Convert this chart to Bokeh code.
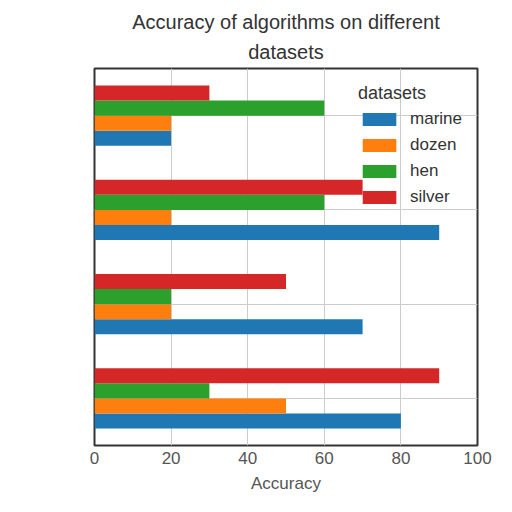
from bokeh.plotting import figure
from bokeh.models import ColumnDataSource, FactorRange, Range1d, Legend, LegendItem, FixedTicker, Title
from bokeh.transform import dodge
from bokeh.embed import file_html
from bokeh.resources import INLINE

# categories bottom -> top
algorithms = ["algorithm A", "algorithm B", "algorithm C", "algorithm D"]
datasets = ["marine", "dozen", "hen", "silver"]
marine = [80, 70, 90, 20]
dozen = [50, 20, 20, 20]
hen = [30, 20, 60, 60]
silver = [90, 50, 70, 30]
colors = ["#1f77b4", "#ff7f0e", "#2ca02c", "#d62728"]
x_ticks = [0, 20, 40, 60, 80, 100]
title_lines = ["Accuracy of algorithms on different", "datasets"]

src = ColumnDataSource(dict(alg=algorithms, marine=marine, dozen=dozen, hen=hen, silver=silver))

FONT = "Liberation Sans"

p = figure(width=504, height=500, y_range=FactorRange(*algorithms, range_padding=0),
           x_range=Range1d(0, 100), output_backend="svg", toolbar_location=None,
           min_border_left=94, min_border_right=27, min_border_top=68, min_border_bottom=55)

offsets = [-0.24, -0.08, 0.08, 0.24]
items = []
for ds, off, c in zip(datasets, offsets, colors):
    r = p.hbar(y=dodge("alg", off, range=p.y_range), right=ds, left=0, height=0.16,
               source=src, fill_color=c, line_color=None)
    items.append(LegendItem(label=ds, renderers=[r]))

legend = Legend(items=items, title="datasets", location="top_right")
legend.background_fill_alpha = 0
legend.border_line_color = None
legend.label_text_font = FONT
legend.label_text_font_size = "17px"
legend.label_text_color = "#333333"
legend.title_text_font = FONT
legend.title_text_font_size = "18px"
legend.title_text_font_style = "normal"
legend.title_text_color = "#333333"
legend.title_standoff = 5
legend.glyph_width = 42
legend.glyph_height = 16
legend.label_height = 20
legend.spacing = 6
legend.margin = 15
legend.padding = 6
legend.label_standoff = 10
p.add_layout(legend)

standoffs = [12, 0]
for line, so in zip(reversed(title_lines), standoffs):
    t = Title(text=line, align="center", text_font=FONT, text_font_size="20px",
              text_font_style="normal", text_color="#333333", standoff=so)
    p.add_layout(t, "above")

p.yaxis.visible = False
p.xaxis.ticker = FixedTicker(ticks=x_ticks)
p.xaxis.axis_label = "Accuracy"
p.xaxis.axis_label_text_font = FONT
p.xaxis.axis_label_text_font_size = "17px"
p.xaxis.axis_label_text_font_style = "normal"
p.xaxis.axis_label_text_color = "#555555"
p.xaxis.major_label_text_font = FONT
p.xaxis.major_label_text_font_size = "17px"
p.xaxis.major_label_text_color = "#555555"
p.xaxis.axis_line_color = None
p.xaxis.major_tick_line_color = None
p.xaxis.minor_tick_line_color = None
p.xaxis.major_label_standoff = 0
p.xaxis.axis_label_standoff = 7

p.xgrid.grid_line_color = "#cccccc"
p.ygrid.grid_line_color = "#cccccc"
p.outline_line_color = "#333333"
p.outline_line_width = 2
p.background_fill_color = "white"
p.border_fill_color = "white"

open("out.html", "w").write(file_html(p, INLINE))
